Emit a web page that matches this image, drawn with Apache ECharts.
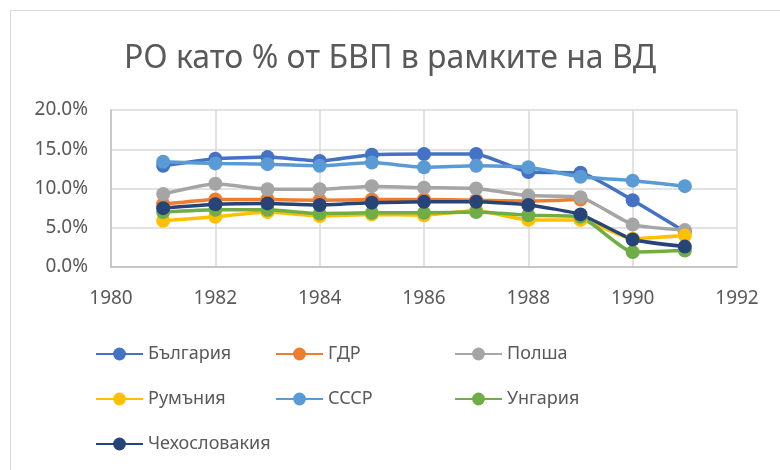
<!DOCTYPE html>
<html>
<head>
<meta charset="utf-8">
<script src="https://cdn.jsdelivr.net/npm/echarts@6/dist/echarts.min.js"></script>
<style>
  html, body { margin: 0; padding: 0; background: #fff; }
  #chart { width: 780px; height: 470px; }
</style>
</head>
<body>
<div id="chart"></div>
<script>
var years = [1981, 1982, 1983, 1984, 1985, 1986, 1987, 1988, 1989, 1990, 1991];

var bulgaria = [12.9, 13.8, 14.0, 13.5, 14.3, 14.4, 14.4, 12.1, 12.0, 8.5, 4.5];
var gdr      = [8.0, 8.6, 8.6, 8.5, 8.6, 8.6, 8.5, 8.4, 8.6, null, null];
var poland   = [9.3, 10.6, 9.9, 9.9, 10.3, 10.1, 10.0, 9.1, 8.9, 5.4, 4.7];
var romania  = [5.9, 6.4, 7.0, 6.5, 6.7, 6.6, 7.2, 6.0, 6.0, 3.6, 4.0];
var ussr     = [13.4, 13.2, 13.1, 12.9, 13.3, 12.7, 12.9, 12.7, 11.5, 11.0, 10.3];
var hungary  = [7.0, 7.3, 7.3, 6.8, 6.9, 6.9, 7.0, 6.6, 6.4, 1.9, 2.1];
var czech    = [7.5, 8.0, 8.1, 7.9, 8.2, 8.3, 8.3, 7.9, 6.7, 3.5, 2.6];

var names  = ['България', 'ГДР', 'Полша', 'Румъния', 'СССР', 'Унгария', 'Чехословакия'];
var values = [bulgaria, gdr, poland, romania, ussr, hungary, czech];
var colors = ['#4472C4', '#ED7D31', '#A5A5A5', '#FFC000', '#5B9BD5', '#70AD47', '#264478'];

var yTicks = [0, 5, 10, 15, 20];

var myChart = echarts.init(document.getElementById('chart'));

// one legend per item so the columns line up like in Excel
var legendPos = [[95, 345], [275, 345], [454, 345], [95, 390], [275, 390], [454, 390], [95, 435]];
var legends = names.map(function (n, i) {
    return {
        data: [n],
        left: legendPos[i][0],
        top: legendPos[i][1],
        padding: 0,
        itemWidth: 47,
        itemHeight: 16,
        textStyle: { color: '#595959', fontSize: 18, fontFamily: 'Noto Sans' },
        selectedMode: false
    };
});

var series = names.map(function (n, i) {
    return {
        name: n,
        type: 'line',
        smooth: 0.15,
        symbol: 'circle',
        symbolSize: 14,
        data: years.map(function (y, j) { return [y, values[i][j]]; }),
        lineStyle: { width: 3.5, color: colors[i] },
        itemStyle: { color: colors[i] }
    };
});

var option = {
    animation: false,
    backgroundColor: '#fff',
    color: colors,
    title: {
        text: 'РО като % от БВП в рамките на ВД',
        left: 'center',
        top: 38,
        textStyle: { color: '#595959', fontSize: 32, fontWeight: 'normal', fontFamily: 'Noto Sans' }
    },
    graphic: [{
        type: 'rect',
        shape: { x: 10.5, y: 10.5, width: 800, height: 500 },
        style: { fill: 'none', stroke: '#d9d9d9', lineWidth: 1 },
        silent: true
    }],
    legend: legends,
    grid: { left: 111, right: 43, top: 110, bottom: 203 },
    xAxis: {
        type: 'value',
        min: 1980,
        max: 1992,
        interval: 2,
        axisLine: { show: true, onZero: false, lineStyle: { color: '#bfbfbf', width: 1.5 } },
        axisTick: { show: false },
        splitLine: { show: true, lineStyle: { color: '#d9d9d9', width: 1.5 } },
        axisLabel: {
            color: '#595959', fontSize: 19, fontFamily: 'Noto Sans', margin: 22,
            formatter: function (v) { return String(v); }
        }
    },
    yAxis: {
        type: 'value',
        min: yTicks[0],
        max: yTicks[yTicks.length - 1],
        interval: 5,
        axisLine: { show: true, lineStyle: { color: '#bfbfbf', width: 1.5 } },
        axisTick: { show: false },
        splitLine: { show: true, lineStyle: { color: '#d9d9d9', width: 1.5 } },
        axisLabel: {
            color: '#595959', fontSize: 19, fontFamily: 'Noto Sans', margin: 23,
            formatter: function (v) { return v.toFixed(1) + '%'; }
        }
    },
    series: series
};

myChart.setOption(option);
</script>
</body>
</html>
